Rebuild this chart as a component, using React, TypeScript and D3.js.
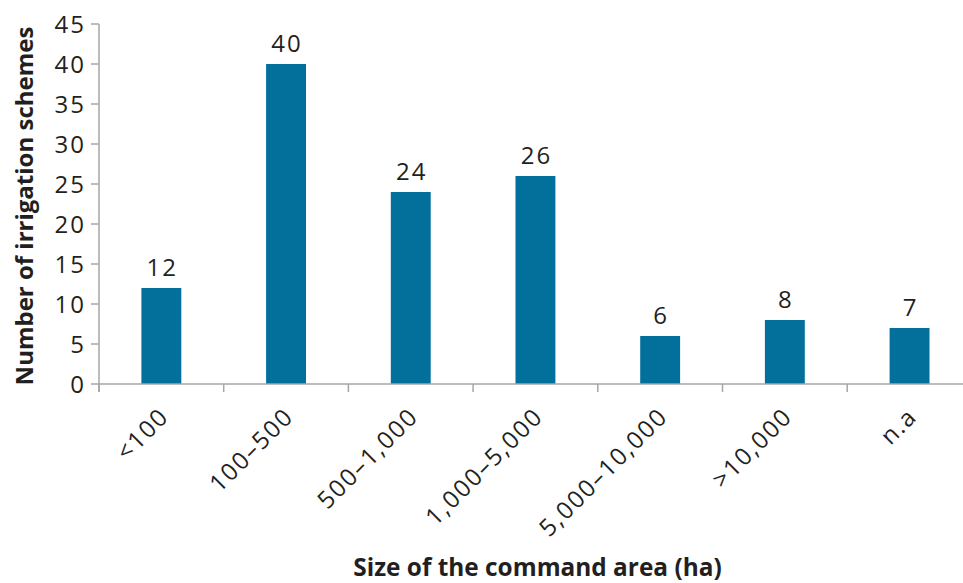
import React from "react";
import * as d3 from "d3";

// Command-area size classes and number of irrigation schemes in each
const categories = ["<100", "100–500", "500–1,000", "1,000–5,000", "5,000–10,000", ">10,000", "n.a"];
const schemeCounts = [12, 40, 24, 26, 6, 8, 7];
const yTicks = [0, 5, 10, 15, 20, 25, 30, 35, 40, 45];

const W = 963;
const H = 583;
const FONT = "'Open Sans', 'Noto Sans', sans-serif";
const TEXT = "#231f20";
const AXIS = "#a6a6a6";
const BAR = "#036f9b";

export default function App() {
  const left = 99;
  const step = 124.7;
  const x = d3
    .scaleBand<string>()
    .domain(categories)
    .range([left, left + step * categories.length])
    .paddingInner(0.68)
    .paddingOuter(0.34);
  const y = d3.scaleLinear().domain([0, 45]).range([384, 24]);
  const y0 = y(0);
  const boundaries = d3.range(categories.length + 1).map((i) => left + i * x.step());

  return (
    <svg
      width={W}
      height={H}
      style={{ position: "absolute", left: 0, top: 0, background: "#fff" }}
      fontFamily={FONT}
    >
      {/* bars */}
      {categories.map((c, i) => (
        <rect
          key={c}
          x={x(c)}
          y={y(schemeCounts[i])}
          width={x.bandwidth()}
          height={y0 - y(schemeCounts[i])}
          fill={BAR}
        />
      ))}

      {/* value labels */}
      {categories.map((c, i) => (
        <text
          key={c}
          x={(x(c) as number) + x.bandwidth() / 2 + 1}
          y={y(schemeCounts[i]) - 12.5}
          textAnchor="middle"
          fontSize={24}
          letterSpacing={2}
          fill={TEXT}
        >
          {schemeCounts[i]}
        </text>
      ))}

      {/* y axis */}
      <line x1={left} x2={left} y1={y(45)} y2={y0 + 8} stroke={AXIS} strokeWidth={1.5} />
      {yTicks.map((t) => (
        <g key={t}>
          <line x1={left - 8} x2={left} y1={y(t)} y2={y(t)} stroke={AXIS} strokeWidth={1.5} />
          <text
            x={left - 13}
            y={y(t)}
            dy="0.36em"
            textAnchor="end"
            fontSize={24}
            letterSpacing={2}
            fill={TEXT}
          >
            {t}
          </text>
        </g>
      ))}

      {/* x axis */}
      <line x1={left} x2={W} y1={y0} y2={y0} stroke={AXIS} strokeWidth={1.5} />
      {boundaries.map((bx, i) => (
        <line key={i} x1={bx} x2={bx} y1={y0} y2={y0 + 8} stroke={AXIS} strokeWidth={1.5} />
      ))}
      {categories.map((c) => {
        const cx = (x(c) as number) + x.bandwidth() / 2;
        return (
          <text
            key={c}
            transform={`translate(${cx + 9},${y0 + 34}) rotate(-45)`}
            textAnchor="end"
            fontSize={24}
            letterSpacing={1.8}
            fill={TEXT}
          >
            {c}
          </text>
        );
      })}

      {/* axis titles */}
      <text
        transform={`translate(33,206) rotate(-90)`}
        textAnchor="middle"
        fontSize={24}
        fontWeight="bold"
        fill={TEXT}
      >
        Number of irrigation schemes
      </text>
      <text x={537.5} y={576} textAnchor="middle" fontSize={24.4} fontWeight="bold" fill={TEXT}>
        Size of the command area (ha)
      </text>
    </svg>
  );
}
